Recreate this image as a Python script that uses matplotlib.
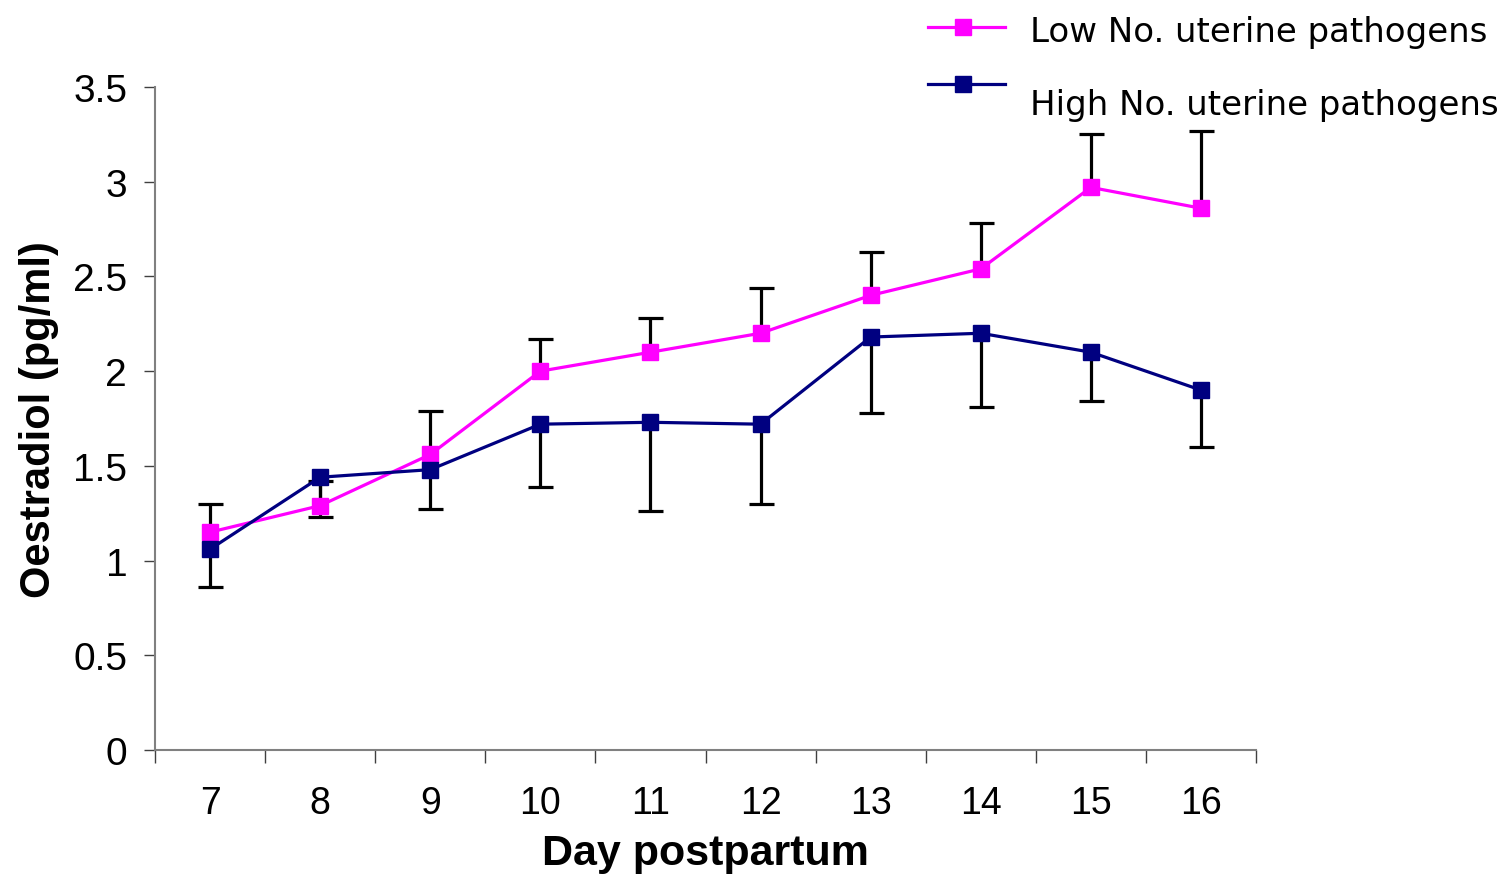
import matplotlib
matplotlib.use("Agg")
import matplotlib.pyplot as plt
from matplotlib.lines import Line2D
import numpy as np

days = ["7", "8", "9", "10", "11", "12", "13", "14", "15", "16"]
low_mean = [1.15, 1.29, 1.56, 2.00, 2.10, 2.20, 2.40, 2.54, 2.97, 2.86]
low_err_up = [0.15, 0.13, 0.23, 0.17, 0.18, 0.24, 0.23, 0.24, 0.28, 0.41]
high_mean = [1.06, 1.44, 1.48, 1.72, 1.73, 1.72, 2.18, 2.20, 2.10, 1.90]
high_err_down = [0.20, 0.21, 0.21, 0.33, 0.47, 0.42, 0.40, 0.39, 0.26, 0.30]
labels = ["Low No. uterine pathogens", "High No. uterine pathogens"]
yticks = [0, 0.5, 1, 1.5, 2, 2.5, 3, 3.5]
ytick_labels = ["0", "0.5", "1", "1.5", "2", "2.5", "3", "3.5"]

plt.rcParams["font.family"] = ["Liberation Sans", "DejaVu Sans"]

W, H = 1509, 879
fig = plt.figure(figsize=(W / 100, H / 100), dpi=100)
ax = fig.add_axes([155 / W, 1 - 751 / H, (1256 - 155) / W, (751 - 88) / H])

x = np.arange(len(days))
low_c = "#FF00FF"
high_c = "#000080"

low_top = np.array(low_mean) + np.array(low_err_up)
high_bot = np.array(high_mean) - np.array(high_err_down)

# one-sided error bars
ax.vlines(x, low_mean, low_top, color="black", lw=2.3, zorder=1)
ax.plot(x, low_top, ls="none", marker="_", ms=18, mew=2.3, color="black", zorder=1)
ax.vlines(x, high_bot, high_mean, color="black", lw=2.3, zorder=1)
ax.plot(x, high_bot, ls="none", marker="_", ms=18, mew=2.3, color="black", zorder=1)

ax.plot(x, low_mean, color=low_c, lw=2.3, marker="s", ms=11,
        markeredgecolor=low_c, zorder=3)
ax.plot(x, high_mean, color=high_c, lw=2.3, marker="s", ms=11,
        markeredgecolor=high_c, zorder=4)

ax.set_xlim(-0.5, len(days) - 0.5)
ax.set_ylim(0, 3.5)
ax.set_yticks(yticks)
ax.set_yticklabels(ytick_labels, fontsize=28)
ax.set_xticks(np.arange(-0.5, len(days), 1.0))
ax.set_xticklabels([])
ax.set_xticks(x, minor=True)
ax.set_xticklabels(days, minor=True, fontsize=27)
ax.tick_params(axis="x", which="major", length=9, width=1, direction="out", color="#404040")
ax.tick_params(axis="x", which="minor", length=0, pad=25)
ax.tick_params(axis="y", length=8, width=1, direction="out", pad=12, color="#404040")

for s in ["top", "right"]:
    ax.spines[s].set_visible(False)
for s in ["left", "bottom"]:
    ax.spines[s].set_color("#808080")
    ax.spines[s].set_linewidth(1.5)

ax.set_xlabel("Day postpartum", fontsize=31, fontweight="bold", labelpad=9)
ax.set_ylabel("Oestradiol (pg/ml)", fontsize=30, fontweight="bold", labelpad=10)

# legend (drawn manually to match the reference placement)
colors = [low_c, high_c]
rows_y = [28, 85]
base_y = [42, 115]
for lab, c, ry, by in zip(labels, colors, rows_y, base_y):
    fy = 1 - ry / H
    fig.add_artist(Line2D([928 / W, 1005 / W], [fy, fy], transform=fig.transFigure,
                          color=c, lw=2.3))
    fig.add_artist(Line2D([963 / W], [fy], transform=fig.transFigure, color=c,
                          marker="s", ms=11, markeredgecolor=c, ls="none"))
    fig.text(1030 / W, 1 - by / H, lab, fontsize=24.5, family="DejaVu Sans",
             va="baseline", ha="left")

fig.savefig("out.png", dpi=100)
